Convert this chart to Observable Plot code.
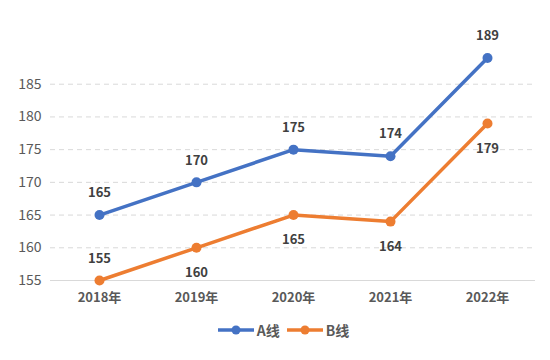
<!DOCTYPE html>
<html>
<head>
<meta charset="utf-8">
<script src="https://cdn.jsdelivr.net/npm/d3@7"></script>
<script src="https://cdn.jsdelivr.net/npm/@observablehq/plot@0.6"></script>
<style>
body { margin: 0; background: #fff; font-family: "Noto Sans CJK SC", "Noto Sans", sans-serif; }
#legend { display: flex; justify-content: center; align-items: center; gap: 6px; font-size: 14px; font-weight: bold; color: #595959; margin-top: 8px; padding-left: 16px; }
.item { display: flex; align-items: center; gap: 2px; }
</style>
</head>
<body>
<div id="chart"></div>
<div id="legend"></div>
<script>
const years = ["2018年", "2019年", "2020年", "2021年", "2022年"];
const seriesA = [165, 170, 175, 174, 189];
const seriesB = [155, 160, 165, 164, 179];
const labelPosB = ["above", "below", "below", "below", "below"];
const yTicks = [155, 160, 165, 170, 175, 180, 185];
const seriesNames = ["A线", "B线"];
const colors = ["#4472C4", "#ED7D31"];

const data = [];
years.forEach((y, i) => {
  data.push({year: y, value: seriesA[i], series: seriesNames[0], pos: "above"});
  data.push({year: y, value: seriesB[i], series: seriesNames[1], pos: labelPosB[i]});
});

const chart = Plot.plot({
  width: 550,
  height: 312,
  marginLeft: 50,
  marginRight: 15,
  marginTop: 51,
  marginBottom: 32,
  style: {fontFamily: "'Noto Sans CJK SC', sans-serif", fontSize: "13px", color: "#595959"},
  x: {type: "point", domain: years, padding: 0.5, label: null},
  y: {domain: [155, 190], ticks: yTicks, label: null},
  color: {domain: seriesNames, range: colors},
  marks: [
    Plot.ruleY(yTicks.filter(t => t !== 155), {stroke: "#d9d9d9", strokeDasharray: "5,4"}),
    Plot.ruleY([155], {stroke: "#d9d9d9"}),
    Plot.axisY({ticks: yTicks, tickSize: 0, tickPadding: 9, fill: "#595959", fontSize: 14}),
    Plot.axisX({tickSize: 0, tickPadding: 12, fill: "#595959", fontSize: 13, fontWeight: "bold"}),
    Plot.line(data, {x: "year", y: "value", stroke: "series", strokeWidth: 3.5}),
    Plot.dot(data, {x: "year", y: "value", fill: "series", r: 5}),
    Plot.text(data.filter(d => d.pos === "above"), {x: "year", y: "value", text: d => String(d.value), dy: -22, fill: "#404040", fontWeight: "bold", fontSize: 13}),
    Plot.text(data.filter(d => d.pos === "below"), {x: "year", y: "value", text: d => String(d.value), dy: 25, fill: "#404040", fontWeight: "bold", fontSize: 13})
  ]
});
document.getElementById("chart").append(chart);

const legend = document.getElementById("legend");
seriesNames.forEach((n, i) => {
  const item = document.createElement("div");
  item.className = "item";
  item.innerHTML = `<svg width="38" height="12"><line x1="1" y1="6" x2="37" y2="6" stroke="${colors[i]}" stroke-width="3.5"/><circle cx="19" cy="6" r="4.5" fill="${colors[i]}"/></svg><span>${n}</span>`;
  legend.append(item);
});
</script>
</body>
</html>
